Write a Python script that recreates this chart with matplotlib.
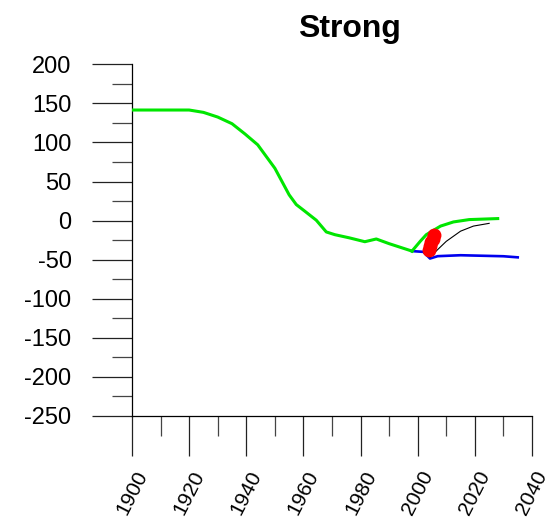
import matplotlib
matplotlib.use("Agg")
import matplotlib.pyplot as plt
from matplotlib.ticker import MultipleLocator

plt.rcParams['font.family'] = ['Liberation Sans', 'DejaVu Sans']
plt.rcParams['axes.unicode_minus'] = False

# Historical (shared) curve
hist_years = [1900, 1920, 1925, 1930, 1935, 1939.5, 1944, 1950, 1955, 1957.5,
              1960.5, 1964.5, 1968, 1971, 1976, 1981.5, 1985.5, 1990, 1998]
hist_vals = [141.5, 141.5, 138.5, 132.5, 124, 111, 97, 67, 33, 20.5,
             12, 0.5, -14.5, -18, -22, -27, -23.5, -29.5, -39]

# Green projection
green_years = [1998, 2001, 2003, 2008, 2012.5, 2018, 2028]
green_vals = [-39, -26, -18, -7, -1.7, 1.3, 2.6]

# Blue projection
blue_years = [1998, 2002, 2004.3, 2007, 2015, 2030, 2035]
blue_vals = [-39, -40, -48.5, -45.5, -44.3, -45.6, -47]

# Black projection
black_years = [2004.3, 2007, 2010, 2015, 2019.5, 2025]
black_vals = [-47, -37, -26.5, -13.5, -7, -3.5]

# Red observations
red_years = [2004.0, 2004.2, 2004.5, 2005.3, 2005.7]
red_vals = [-37, -32, -28, -23, -19]

xticks = [1900, 1920, 1940, 1960, 1980, 2000, 2020, 2040]
yticks = [200, 150, 100, 50, 0, -50, -100, -150, -200, -250]

fig = plt.figure(figsize=(5.5, 5.25), dpi=100)
ax = fig.add_axes([132/550, 1-416/525, 400/550, (416-64.3)/525])

green = '#00e600'
ax.plot(hist_years, hist_vals, color=green, lw=2.2, zorder=3)
ax.plot(blue_years, blue_vals, color='#0000ee', lw=1.9, zorder=2)
ax.plot(black_years, black_vals, color='black', lw=0.8, zorder=2)
ax.plot(green_years, green_vals, color=green, lw=2.2, zorder=3)
ax.plot(red_years, red_vals, 'o', color='red', ms=9, mec='red', zorder=4)

ax.set_xlim(1900, 2040)
ax.set_ylim(-250, 200)
for s in ['top', 'right']:
    ax.spines[s].set_visible(False)
for s in ['left', 'bottom']:
    ax.spines[s].set_linewidth(0.9)

ax.set_xticks(xticks)
ax.set_xticklabels([str(x) for x in xticks], rotation=63, ha='center', va='top')
ax.set_yticks(yticks)
ax.set_yticklabels([str(y) for y in yticks])
ax.xaxis.set_minor_locator(MultipleLocator(10))
ax.yaxis.set_minor_locator(MultipleLocator(25))
ax.tick_params(which='major', direction='out', length=29, width=0.9, color='#222222')
ax.tick_params(which='minor', direction='out', length=14.5, width=0.9, color='#444444')
ax.tick_params(axis='x', which='major', pad=8, labelsize=15)
ax.tick_params(axis='y', which='major', pad=14.5, labelsize=17)

fig.text(349/550, 1-36.7/525, 'Strong', ha='center', va='baseline',
         fontsize=23, fontweight='bold')

fig.savefig('out.png', dpi=100)
